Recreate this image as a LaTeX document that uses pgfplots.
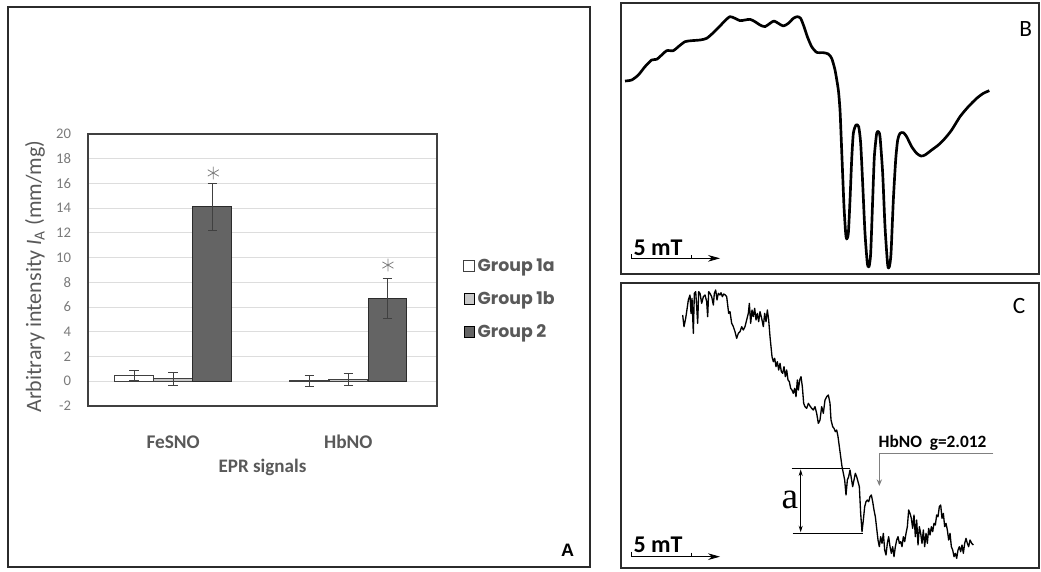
\documentclass[border=0pt]{standalone}
\usepackage{pgfplots}
\pgfplotsset{compat=1.18}
\usepackage{pgfplotstable}
\usepackage{fontspec}
\setmainfont{Carlito}
\newfontfamily\gothic{Poppins}
\newfontfamily\arialf{Liberation Sans}
\newfontfamily\timesf{Liberation Serif}
\usetikzlibrary{arrows.meta}
\definecolor{dg}{HTML}{404040}
\definecolor{bargray}{HTML}{646464}
\definecolor{lightbar}{HTML}{C8C8C8}
\definecolor{txtgray}{HTML}{595959}
\definecolor{tickgray}{HTML}{7A7A7A}
\definecolor{gridgray}{HTML}{DDDDDD}
\definecolor{framec}{HTML}{2B2B2B}

\pgfplotstableread{
x y e
1 0.5 0.4
2 0.05 0.45
}\grpa
\pgfplotstableread{
x y e
1 0.2 0.5
2 0.15 0.45
}\grpb
\pgfplotstableread{
x y e
1 14.1 1.9
2 6.7 1.65
}\grpc

\pgfplotstableread{
x y
15 243
35 240
55 225
75 200
95 180
110 178
125 165
140 152
160 152
175 140
195 125
215 122
240 120
260 115
280 98
300 78
315 62
330 50
345 55
360 62
375 60
390 58
405 65
420 75
435 80
450 70
462 63
475 70
490 78
505 70
520 55
532 50
542 55
552 80
562 110
575 140
590 157
610 158
625 162
635 175
645 210
655 270
660 330
663 400
667 500
672 620
677 700
680 717
685 700
690 600
695 480
700 400
708 375
716 380
722 430
728 550
735 700
742 790
747 800
752 760
758 600
763 470
770 400
775 395
780 410
788 520
795 680
803 795
808 800
813 760
820 600
827 480
833 420
840 400
850 398
860 410
875 440
890 460
903 468
915 465
935 450
955 435
975 415
995 390
1020 350
1045 320
1070 295
1090 280
1108 272
}\specB

\pgfplotstableread{
x y
188 105
192 140
197 115
200 95
205 60
210 45
213 100
216 55
220 160
223 40
227 35
230 80
233 130
236 35
240 40
245 70
250 50
255 45
260 65
263 110
266 35
270 40
275 50
280 75
283 40
287 30
291 60
295 40
300 45
303 38
307 50
311 42
316 45
320 50
323 75
326 100
330 95
335 130
340 140
345 155
350 175
355 160
360 155
365 140
370 150
375 140
380 120
385 100
388 70
392 130
396 90
400 110
404 85
408 120
412 100
416 125
420 95
425 115
430 140
434 100
438 125
442 90
446 120
450 170
453 200
456 230
460 245
464 235
468 260
472 245
476 270
480 250
484 275
488 280
492 260
496 290
500 270
504 300
508 305
512 325
516 330
520 340
524 325
528 350
532 300
535 330
539 300
543 290
547 320
551 370
555 380
560 385
565 370
570 378
575 385
580 390
585 380
590 400
595 430
600 420
605 380
610 400
615 360
620 350
625 345
630 370
633 420
638 440
642 445
646 455
650 450
654 470
658 500
662 530
666 560
670 580
674 600
678 645
682 600
686 590
690 570
694 595
698 620
702 600
706 580
710 590
714 605
718 620
722 700
726 755
730 720
734 680
738 665
742 660
746 665
750 650
754 645
758 665
762 690
766 710
770 745
774 780
778 800
782 770
786 790
790 760
794 810
798 825
802 790
806 770
810 800
814 820
818 800
822 830
826 800
830 780
834 770
838 790
842 785
846 800
850 770
854 785
858 760
862 740
866 690
870 700
874 715
878 745
882 705
886 770
890 720
894 795
898 740
902 760
906 790
910 750
914 800
918 760
922 790
926 745
930 765
934 740
938 755
942 730
946 735
950 705
954 710
958 680
962 675
966 715
970 700
974 740
978 730
982 750
986 780
990 760
994 800
998 810
1002 830
1006 820
1010 835
1014 810
1018 800
1022 815
1026 795
1030 820
1034 790
1038 775
1042 790
1046 800
1050 780
1055 790
1060 795
}\specC

\begin{document}
\begin{tikzpicture}
\path (0,0) rectangle (780.75pt,428.25pt);
\begin{scope}[x=0.75pt,y=-0.75pt,shift={(0pt,428.25pt)}]
  \draw[framec, line width=1.4pt] (8,7) rectangle (590,567);
  \node[font=\arialf\bfseries\fontsize{13.5}{16}\selectfont] at (567.7,550) {A};
\end{scope}

% ---------- Panel A ----------
\begin{axis}[
  at={(66pt,123.75pt)}, anchor=south west,
  scale only axis, width=261.75pt, height=204pt,
  xmin=0.514, xmax=2.506, ymin=-2, ymax=20,
  xtick={1,2}, xticklabels={FeSNO,HbNO},
  ytick={-2,0,...,20},
  major tick length=0pt,
  ymajorgrids, grid style={gridgray, line width=0.8pt},
  axis line style={dg, line width=1.1pt},
  /pgf/number format/assume math mode=true,
  tick label style={font=\fontsize{11}{13}\selectfont},
  yticklabel style={text=tickgray, anchor=east, inner sep=0pt, xshift=-12.5pt},
  xticklabel style={text=txtgray, anchor=center, yshift=-26.8pt, font=\bfseries\fontsize{14.5}{16}\selectfont},
  xlabel={EPR signals},
  xlabel style={at={(axis description cs:0.5,-0.224)}, anchor=center, text=txtgray, font=\bfseries\fontsize{14.3}{16}\selectfont},
  ylabel={Arbitrary intensity \textit{I}\textsubscript{A} (mm/mg)},
  ylabel style={at={(axis description cs:-0.152,0.476)}, anchor=center, text=txtgray, font=\fontsize{16.5}{18}\selectfont},
  legend style={at={(axis description cs:1.0745,0.393)}, anchor=west, draw=none, fill=none, inner sep=0pt,
    font=\gothic\bfseries\fontsize{13}{15}\selectfont, text=txtgray, row sep=9.5pt},
  legend cell align=left,
  legend image code/.code={\draw[#1] (0pt,-4pt) rectangle (8pt,4pt);},
  clip=false,
]
\addplot[ybar, bar width=29pt, bar shift=0pt, fill=white, draw=dg, line width=0.8pt, forget plot,
  error bars/.cd, y dir=both, y explicit, error bar style={dg, line width=0.6pt},
  error mark options={rotate=90, dg, mark size=3.5pt, line width=0.6pt}]
  table[x expr=\thisrow{x}-0.2229, y=y, y error=e]{\grpa};
\addplot[ybar, bar width=29pt, bar shift=0pt, fill=lightbar, draw=dg, line width=0.8pt, forget plot,
  error bars/.cd, y dir=both, y explicit, error bar style={dg, line width=0.6pt},
  error mark options={rotate=90, dg, mark size=3.5pt, line width=0.6pt}]
  table[x=x, y=y, y error=e]{\grpb};
\addplot[ybar, bar width=29pt, bar shift=0pt, fill=bargray, draw=framec, line width=0.8pt, forget plot,
  error bars/.cd, y dir=both, y explicit, error bar style={dg, line width=0.6pt},
  error mark options={rotate=90, dg, mark size=3.5pt, line width=0.6pt}]
  table[x expr=\thisrow{x}+0.2229, y=y, y error=e]{\grpc};
\addplot[only marks, mark=asterisk, mark size=4.8pt, mark options={gray, line width=0.6pt}, forget plot]
  coordinates {(1.229,16.85) (2.226,9.4)};
\addlegendimage{fill=white, draw=dg, line width=0.8pt}
\addlegendentry{Group 1a}
\addlegendimage{fill=lightbar, draw=none}
\addlegendentry{Group 1b}
\addlegendimage{fill=bargray, draw=none}
\addlegendentry{Group 2}
\end{axis}

% ---------- Panel B ----------
\begin{axis}[
  at={(465.75pt,222.75pt)}, anchor=south west,
  scale only axis, width=313.5pt, height=203pt,
  xmin=3, xmax=1257, ymin=10, ymax=822, y dir=reverse,
  xtick=\empty, ytick=\empty,
  axis line style={framec, line width=1.3pt},
  clip=false,
]
\addplot[black, line width=2pt, smooth, tension=0.4, line join=round] table[x=x,y=y]{\specB};
\draw[black, line width=0.6pt, -{Stealth[length=9pt,width=5pt]}] (axis cs:35,775) -- (axis cs:300,775);
\draw[black, line width=0.6pt] (axis cs:35,762) -- (axis cs:35,776) (axis cs:215,765) -- (axis cs:215,776);
\node[anchor=base west, font=\bfseries\fontsize{18}{20}\selectfont, inner sep=0pt] at (axis cs:40,765) {5 mT};
\node[font=\fontsize{17.5}{20}\selectfont] at (axis cs:1217,87) {B};
\end{axis}

% ---------- Panel C ----------
\begin{axis}[
  at={(465.75pt,2.25pt)}, anchor=south west,
  scale only axis, width=313.5pt, height=213.75pt,
  xmin=3, xmax=1257, ymin=9, ymax=864, y dir=reverse,
  xtick=\empty, ytick=\empty,
  axis line style={framec, line width=1.3pt},
  clip=false,
]
\addplot[black, line width=1pt, line join=round] table[x=x,y=y]{\specC};
\draw[black, line width=0.6pt, -{Stealth[length=9pt,width=5pt]}] (axis cs:35,830) -- (axis cs:300,830);
\draw[black, line width=0.6pt] (axis cs:35,815) -- (axis cs:35,831) (axis cs:215,818) -- (axis cs:215,831);
\node[anchor=base west, font=\bfseries\fontsize{18}{20}\selectfont, inner sep=0pt] at (axis cs:40,818) {5 mT};
\node[font=\fontsize{17.5}{20}\selectfont] at (axis cs:1197,78) {C};
\draw[black, line width=0.6pt] (axis cs:515,565) -- (axis cs:690,565);
\draw[black, line width=0.6pt] (axis cs:518,760) -- (axis cs:730,760);
\draw[black, line width=0.6pt, {Stealth[length=5pt,width=3pt]}-{Stealth[length=5pt,width=3pt]}] (axis cs:542,568) -- (axis cs:542,757);
\node[font=\timesf\fontsize{28}{30}\selectfont] at (axis cs:510,660) {a};
\draw[gray, line width=0.8pt] (axis cs:1120,520) -- (axis cs:778,520);
\draw[gray, line width=0.8pt, -{Stealth[length=5pt,width=4pt]}] (axis cs:778,520) -- (axis cs:778,618);
\node[anchor=west, font=\bfseries\fontsize{13}{15}\selectfont, inner sep=0pt] at (axis cs:775,490) {HbNO\ \ g=2.012};
\end{axis}
\end{tikzpicture}
\end{document}
